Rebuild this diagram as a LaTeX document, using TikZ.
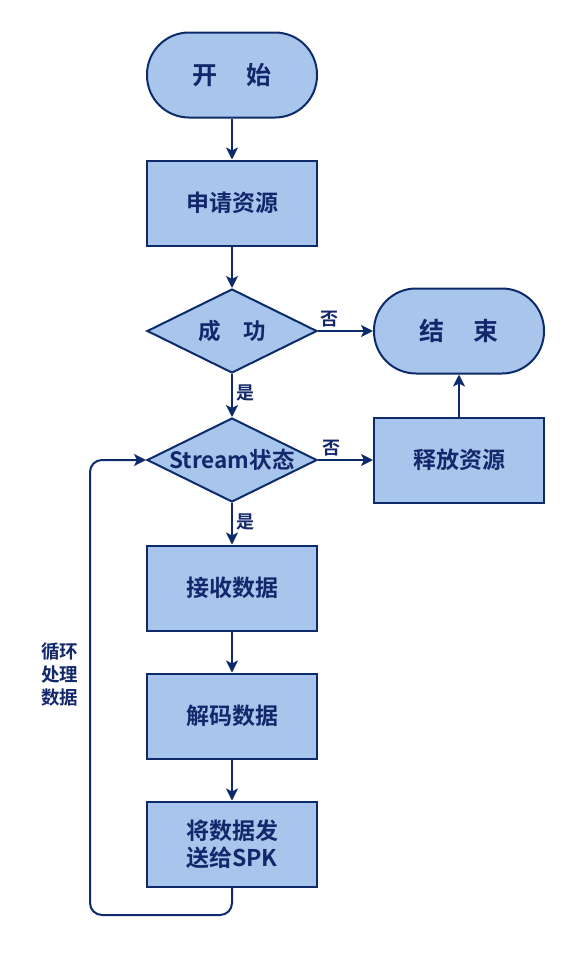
\documentclass[tikz,border=0pt]{standalone}
\usepackage{fontspec}
\setmainfont{Noto Sans CJK SC}[BoldFont={Noto Sans CJK SC Bold}]
\usetikzlibrary{shapes.geometric,arrows.meta}
\definecolor{boxfill}{HTML}{A8C5EC}
\definecolor{boxline}{HTML}{0D2B6B}
\definecolor{boxtext}{HTML}{13286B}
\tikzset{
  terminal/.style={draw=boxline,fill=boxfill,line width=2pt,rounded corners=42pt,
    minimum width=170pt,minimum height=85pt,text=boxtext,font=\fontsize{25}{30}\selectfont\bfseries},
  process/.style={draw=boxline,fill=boxfill,line width=2pt,minimum width=170pt,
    minimum height=85pt,text=boxtext,align=center,font=\fontsize{23}{30}\selectfont\bfseries},
  decision/.style={diamond,draw=boxline,fill=boxfill,line width=2pt,aspect=2,inner sep=0pt,
    minimum width=170pt,minimum height=84pt,text=boxtext,font=\fontsize{22.5}{26}\selectfont\bfseries},
  arr/.style={draw=boxline,line width=2pt,-{Stealth[length=12pt,width=12pt,inset=3pt]}},
  lab/.style={text=boxtext,font=\fontsize{18}{20}\selectfont\bfseries},
}
\begin{document}
\begin{tikzpicture}[x=1pt,y=-1pt]
    \useasboundingbox (0,0) rectangle (580,970);
    \node [terminal] (start) at(232,75) {开\hspace{1.2em}始};
    \node [process] (apply) at(232,203) {申请资源};
    \node [decision] (ok) at(232,331) {成\hspace{1em}功};
    \node [terminal] (finish) at(459,331) {结\hspace{1.2em}束};
    \node [decision] (stream) at(232,460) {Stream状态};
    \node [process] (release) at(459,460) {释放资源};
    \node [process] (recv) at(232,588) {接收数据};
    \node [process] (decode) at(232,716) {解码数据};
    \node [process] (send) at(232,844) {将数据发\\[-3pt]送给SPK};
    \coordinate (loop) at(90,915);
    \draw [arr] (start) -- (apply);
    \draw [arr] (apply) -- (ok);
    \draw [arr] (ok) -- node [lab,right,pos=0.45] {是} (stream);
    \draw [arr] (ok) -- node [lab,above,pos=0.2] {否} (finish);
    \draw [arr] (stream) -- node [lab,above,pos=0.25] {否} (release);
    \draw [arr] (release) -- (finish);
    \draw [arr] (stream) -- node [lab,right,pos=0.45] {是} (recv);
    \draw [arr] (recv) -- (decode);
    \draw [arr] (decode) -- (send);
    \draw [arr,rounded corners=12pt] (send.south) |- (loop) |- (stream.west);
    \node [lab,align=center,font=\fontsize{18.5}{23}\selectfont\bfseries] (looptext) at(60,674) {循环\\处理\\数据};
\end{tikzpicture}
\end{document}
